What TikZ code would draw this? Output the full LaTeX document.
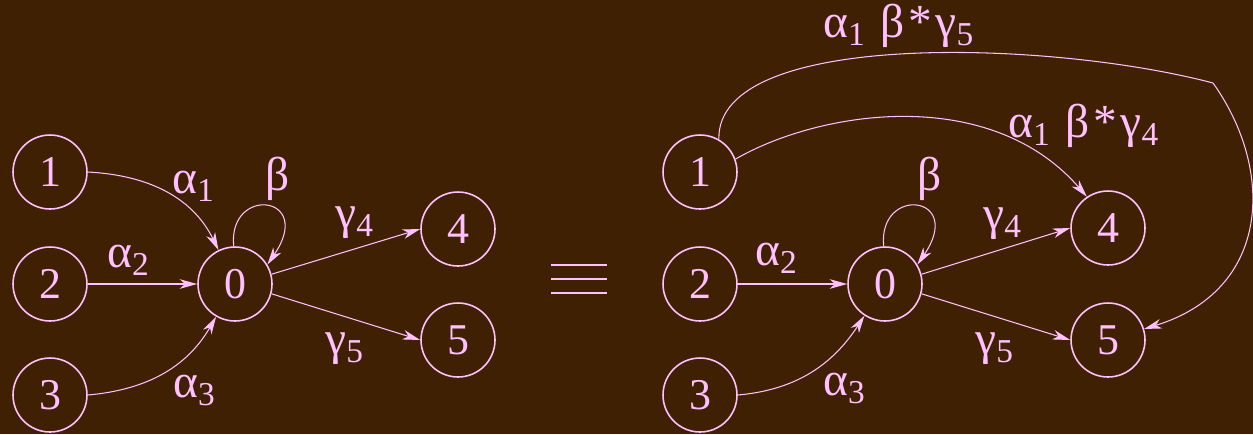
\documentclass[tikz,border=0pt]{standalone}
\usepackage{fontspec}
\setmainfont{Liberation Serif}
\newfontfamily\timesfont{Liberation Serif}
\usetikzlibrary{arrows.meta,positioning}
\definecolor{bgbrown}{RGB}{64,32,2}
\definecolor{lilac}{RGB}{255,192,255}
\newcommand{\sub}[1]{\raisebox{-5pt}{\fontsize{19}{19}\selectfont #1}}
\tikzset{
  vertex/.style={circle, draw=lilac, line width=0.9pt, minimum size=1.48cm,
                 inner sep=0pt, text=lilac,
                 font=\timesfont\fontsize{25}{25}\selectfont},
  edgelabel/.style={text=lilac, inner sep=0pt, anchor=base west,
                    font=\timesfont\fontsize{27}{27}\selectfont},
  arrow/.style={-{Stealth[length=10pt,width=5.5pt,inset=3pt]},
                line width=0.6pt, draw=lilac},
  bar/.style={draw=lilac, line width=0.9pt}
}

\begin{document}
\begin{tikzpicture}[x=0.02cm, y=0.02cm]
\useasboundingbox (0,0) rectangle (1253,-434);
\fill[bgbrown] (0,0) rectangle (1253,-434);

% left graph
\node[vertex] (l1) at (50,-172) {1};
\node[vertex] (l2) at (50,-284) {2};
\node[vertex] (l3) at (50,-395) {3};
\node[vertex] (l0) at (235,-284) {0};
\node[vertex] (l4) at (458,-229) {4};
\node[vertex] (l5) at (458,-340) {5};
\draw[arrow] (l1.east) to[out=-3, in=116] (l0.116);
\draw[arrow] (l2) -- (l0);
\draw[arrow] (l3.east) to[out=5, in=-120] (l0.-120);
\draw[arrow] (l0.92) .. controls +(-6,61) and +(48,70) .. (l0.31);
\draw[arrow] (l0.15) -- (l4.west);
\draw[arrow] (l0.-15) -- (l5.west);
\node[edgelabel] at (172,-193) {α\sub{1}};
\node[edgelabel] at (107,-267) {α\sub{2}};
\node[edgelabel] at (173,-397) {α\sub{3}};
\node[edgelabel] at (265,-190) {β};
\node[edgelabel] at (335,-228) {γ\sub{4}};
\node[edgelabel] at (325,-354) {γ\sub{5}};

% equivalence
\foreach \y in {265,279,293}
  \draw[bar] (551,-\y) -- (607,-\y);

% right graph
\node[vertex] (r1) at (700,-172) {1};
\node[vertex] (r2) at (700,-284) {2};
\node[vertex] (r3) at (700,-395) {3};
\node[vertex] (r0) at (885,-284) {0};
\node[vertex] (r4) at (1108,-228) {4};
\node[vertex] (r5) at (1108,-340) {5};
\coordinate (bend) at (1213,-83);
\draw[arrow] (r1.60) .. controls +(-3,110) and +(-163,43) .. (bend)
                     .. controls +(62,-87) and +(127,39) .. (r5.17);
\draw[arrow] (r1.20) .. controls +(85,49) and +(-97,112) .. (r4.124);
\draw[arrow] (r2) -- (r0);
\draw[arrow] (r3.east) to[out=5, in=-123] (r0.-123);
\draw[arrow] (r0.92) .. controls +(-6,61) and +(48,70) .. (r0.31);
\draw[arrow] (r0.15) -- (r4.west);
\draw[arrow] (r0.-15) -- (r5.west);
\node[edgelabel] at (823,-37) {α\sub{1}\hspace{9pt}β\hspace{2pt}*\hspace{2pt}γ\sub{5}};
\node[edgelabel] at (1008,-137) {α\sub{1}\hspace{9pt}β\hspace{2pt}*\hspace{2pt}γ\sub{4}};
\node[edgelabel] at (755,-265) {α\sub{2}};
\node[edgelabel] at (823,-395) {α\sub{3}};
\node[edgelabel] at (917,-190) {β};
\node[edgelabel] at (983,-229) {γ\sub{4}};
\node[edgelabel] at (975,-354) {γ\sub{5}};
\end{tikzpicture}
\end{document}
